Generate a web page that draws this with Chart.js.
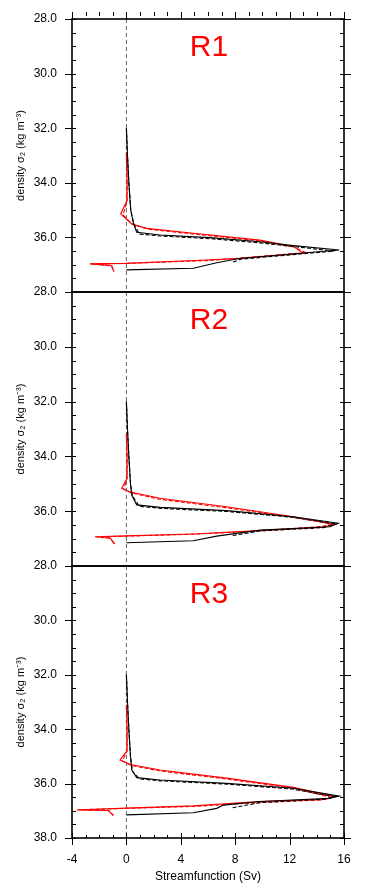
<!DOCTYPE html>
<html>
<head>
<meta charset="utf-8">
<script src="https://cdn.jsdelivr.net/npm/chart.js@4.4.1/dist/chart.umd.min.js"></script>
<style>
body { margin: 0; background: #fff; }
#wrap { position: relative; width: 365px; height: 895px; }
canvas { position: absolute; left: 0; }
</style>
</head>
<body>
<div id="wrap">
  <canvas id="p1" width="365" height="300" style="top:0px;width:365px;height:300px"></canvas>
  <canvas id="p2" width="365" height="290" style="top:284px;width:365px;height:290px"></canvas>
  <canvas id="p3" width="365" height="337" style="top:558px;width:365px;height:337px"></canvas>
</div>
<script>
// panel names and axis ticks
var panels = ["R1", "R2", "R3"];
var xTicks = [-4, 0, 4, 8, 12, 16];
var yTicks = [28, 30, 32, 34, 36, 38];
var zeroLine = [28, 38];

// R1 : density (rho) and streamfunction (sf)
var r1BlackRho = [32.0, 33.0, 34.0, 35.0, 35.48, 35.81, 35.91, 36.01, 36.16, 36.30, 36.46, 36.57, 36.77, 36.93, 37.13, 37.19];
var r1BlackSf  = [0.0, 0.08, 0.18, 0.32, 0.51, 0.76, 2.47, 6.15, 9.82, 12.27, 15.66, 13.0, 8.3, 6.64, 4.92, 0.0];
var r1BlackDashRho = [32.0, 33.0, 34.0, 35.0, 35.5, 35.88, 35.95, 36.05, 36.2, 36.33, 36.5, 36.62, 36.8, 36.92];
var r1BlackDashSf  = [0.0, 0.08, 0.18, 0.32, 0.55, 0.95, 2.6, 6.2, 9.8, 12.2, 15.3, 12.5, 8.4, 7.74];
var r1RedRho = [32.9, 34.0, 34.65, 35.14, 35.51, 35.67, 35.85, 36.1, 36.33, 36.58, 36.77, 36.83, 36.95, 36.97, 37.04, 37.26];
var r1RedSf  = [0.0, 0.05, 0.05, -0.42, 0.39, 1.49, 4.92, 9.82, 12.27, 13.0, 8.3, 5.9, 0.0, -2.68, -1.08, -0.91];
var r1RedDashRho = [33.0, 34.0, 34.7, 35.18, 35.52, 35.7, 35.88, 36.12, 36.35, 36.56, 36.76, 36.85, 36.95, 36.97, 37.03, 37.24];
var r1RedDashSf  = [0.0, 0.05, 0.03, -0.25, 0.45, 1.6, 5.0, 9.7, 12.3, 13.2, 8.3, 5.9, 0.0, -2.6, -1.1, -0.95];

// R2
var r2BlackRho = [32.0, 33.0, 34.0, 35.0, 35.41, 35.77, 35.86, 35.98, 36.2, 36.44, 36.57, 36.69, 36.91, 37.08, 37.15];
var r2BlackSf  = [0.0, 0.08, 0.18, 0.3, 0.39, 0.76, 2.47, 7.37, 12.27, 15.58, 14.97, 9.82, 6.64, 4.92, 0.0];
var r2BlackDashRho = [32.0, 33.0, 34.0, 35.0, 35.45, 35.82, 35.9, 36.01, 36.22, 36.46, 36.6, 36.72, 36.9];
var r2BlackDashSf  = [0.0, 0.08, 0.18, 0.3, 0.45, 0.95, 2.6, 7.4, 12.2, 15.3, 14.5, 9.8, 7.7];
var r2RedRho = [33.16, 34.0, 34.8, 35.16, 35.3, 35.53, 35.84, 36.2, 36.48, 36.58, 36.71, 36.83, 36.9, 36.93, 36.98, 37.2];
var r2RedSf  = [0.0, 0.05, 0.05, -0.35, 0.3, 2.47, 7.37, 12.27, 15.3, 14.5, 9.82, 4.92, 0.0, -2.31, -1.2, -0.84];
var r2RedDashRho = [33.2, 34.0, 34.8, 35.2, 35.33, 35.56, 35.87, 36.22, 36.45, 36.55, 36.72, 36.84, 36.91, 36.94, 36.99, 37.18];
var r2RedDashSf  = [0.0, 0.05, 0.04, -0.2, 0.35, 2.4, 7.3, 12.2, 15.0, 14.5, 9.8, 4.9, 0.0, -2.2, -1.2, -0.9];

// R3
var r3BlackRho = [32.0, 33.0, 34.0, 35.0, 35.5, 35.78, 35.87, 35.99, 36.17, 36.46, 36.54, 36.66, 36.79, 36.91, 37.07, 37.15];
var r3BlackSf  = [0.0, 0.08, 0.18, 0.3, 0.4, 0.76, 2.47, 7.37, 12.27, 15.66, 14.97, 9.82, 7.13, 6.64, 4.92, 0.0];
var r3BlackDashRho = [32.0, 33.0, 34.0, 35.0, 35.55, 35.83, 35.9, 36.02, 36.2, 36.48, 36.57, 36.7, 36.9];
var r3BlackDashSf  = [0.0, 0.08, 0.18, 0.3, 0.45, 0.95, 2.6, 7.4, 12.2, 15.3, 14.6, 9.8, 7.7];
var r3RedRho = [33.1, 34.0, 34.8, 35.13, 35.3, 35.5, 35.8, 36.14, 36.48, 36.58, 36.66, 36.82, 36.9, 36.97, 36.99, 37.18];
var r3RedSf  = [0.0, 0.05, 0.05, -0.47, 0.3, 2.47, 7.37, 12.27, 15.34, 14.6, 9.82, 4.92, 0.0, -3.66, -1.33, -0.96];
var r3RedDashRho = [33.2, 34.0, 34.8, 35.17, 35.33, 35.53, 35.83, 36.16, 36.5, 36.6, 36.7, 36.84, 36.91, 36.96, 36.99, 37.16];
var r3RedDashSf  = [0.0, 0.05, 0.04, -0.3, 0.35, 2.4, 7.3, 12.2, 15.0, 14.4, 9.8, 4.9, 0.0, -3.5, -1.3, -0.95];

Chart.defaults.font.family = "'Liberation Sans', Arial, sans-serif";
Chart.defaults.font.size = 11;
Chart.defaults.color = '#000';

function pts(sf, rho) {
    return sf.map(function(v, i){ return {x: v, y: rho[i]}; });
}

function line(sf, rho, color, dash) {
    return {
        data: pts(sf, rho),
        borderColor: color,
        borderWidth: 1.1,
        borderDash: dash,
        pointRadius: 0,
        showLine: true,
        tension: 0,
        fill: false
    };
}

// frame, tick marks and panel label
var frame = {
    id: 'frame',
    afterDatasetsDraw: function(chart, args, opts) {
        var ctx = chart.ctx, a = chart.chartArea, y = chart.scales.y, x = chart.scales.x;
        ctx.save();
        ctx.strokeStyle = '#000';
        ctx.lineWidth = 1;
        ctx.beginPath();
        for (var v = 28; v <= 38.001; v += 0.5) {
            var py = Math.round(y.getPixelForValue(v)) + 0.5;
            var major = Math.abs(v % 2) < 0.01;
            ctx.moveTo(major ? a.left - 7 : a.left, py);
            ctx.lineTo(a.left + 4, py);
            ctx.moveTo(a.right - 4, py);
            ctx.lineTo(major ? a.right + 7 : a.right, py);
        }
        for (var u = -4; u <= 16; u++) {
            var px = Math.round(x.getPixelForValue(u)) + 0.5;
            var big = u % 4 === 0;
            if (opts.top) {
                ctx.moveTo(px, a.top - 7);
                ctx.lineTo(px, big ? a.top : a.top - 3);
            }
            if (opts.bottom) {
                ctx.moveTo(px, big ? a.bottom + 7 : a.bottom);
                ctx.lineTo(px, big ? a.bottom - 5 : a.bottom - 3);
            }
        }
        ctx.stroke();
        ctx.lineWidth = 1.6;
        ctx.strokeRect(a.left, a.top, a.right - a.left, a.bottom - a.top);
        ctx.fillStyle = '#ff0000';
        ctx.font = "30px 'Liberation Sans', Arial, sans-serif";
        ctx.textAlign = 'center';
        ctx.textBaseline = 'middle';
        ctx.fillText(opts.label, 209, a.top + 28.5);
        ctx.restore();
    }
};

function makeChart(id, idx, sets) {
    var last = idx === panels.length - 1;
    return new Chart(document.getElementById(id), {
        type: 'scatter',
        data: {
            datasets: [
                line(sets[0], sets[1], '#000', []),
                line(sets[2], sets[3], '#000', [4, 2]),
                line(sets[4], sets[5], '#ff0000', []),
                line(sets[6], sets[7], '#ff0000', [4, 2]),
                { data: [{x: 0, y: zeroLine[0]}, {x: 0, y: zeroLine[1]}], borderColor: '#555',
                  borderWidth: 0.9, borderDash: [4, 3], pointRadius: 0, showLine: true }
            ]
        },
        options: {
            responsive: false,
            animation: false,
            layout: { padding: { left: 0, right: 21, top: idx === 0 ? 19 : 8, bottom: last ? 0 : 8 } },
            plugins: {
                legend: { display: false },
                tooltip: { enabled: false },
                frame: { label: panels[idx], top: idx === 0, bottom: last }
            },
            scales: {
                x: {
                    type: 'linear',
                    min: xTicks[0],
                    max: xTicks[xTicks.length - 1],
                    display: last,
                    grid: { display: false, drawTicks: false },
                    border: { display: false },
                    afterBuildTicks: function(s){ s.ticks = xTicks.map(function(v){ return {value: v}; }); },
                    afterFit: function(s){ s.height = last ? 57 : 0; s.paddingLeft = 0; s.paddingRight = 0; },
                    ticks: { padding: 14, font: { size: 12 } },
                    title: { display: true, text: 'Streamfunction (Sv)', font: { size: 12 }, padding: { top: 0, bottom: 11 } }
                },
                y: {
                    type: 'linear',
                    min: yTicks[0],
                    max: yTicks[yTicks.length - 1],
                    reverse: true,
                    grid: { display: false, drawTicks: false },
                    border: { display: false },
                    afterBuildTicks: function(s){ s.ticks = yTicks.map(function(v){ return {value: v}; }); },
                    afterFit: function(s){ s.width = 72; s.paddingTop = 0; s.paddingBottom = 0; },
                    ticks: {
                        padding: 15,
                        font: { size: 12 },
                        callback: function(v){ return (v === 38 && !last) ? '' : v.toFixed(1); }
                    },
                    title: { display: true, text: 'density σ₂ (kg m⁻³)', font: { size: 11 }, padding: { top: 14, bottom: 0 } }
                }
            }
        },
        plugins: [frame]
    });
}

makeChart('p1', 0, [r1BlackSf, r1BlackRho, r1BlackDashSf, r1BlackDashRho, r1RedSf, r1RedRho, r1RedDashSf, r1RedDashRho]);
makeChart('p2', 1, [r2BlackSf, r2BlackRho, r2BlackDashSf, r2BlackDashRho, r2RedSf, r2RedRho, r2RedDashSf, r2RedDashRho]);
makeChart('p3', 2, [r3BlackSf, r3BlackRho, r3BlackDashSf, r3BlackDashRho, r3RedSf, r3RedRho, r3RedDashSf, r3RedDashRho]);
</script>
</body>
</html>
